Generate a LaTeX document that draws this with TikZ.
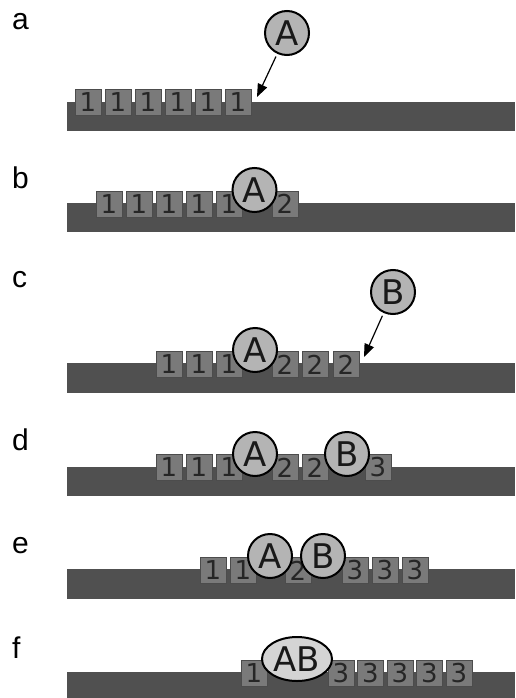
\documentclass[tikz,border=0pt]{standalone}
\usepackage{fontspec}
\setmainfont{Liberation Sans}
\newfontfamily\dejavu{DejaVu Sans}
\usetikzlibrary{arrows.meta,shapes.geometric}
\definecolor{track}{HTML}{505050}
\definecolor{sitegray}{HTML}{7A7A7A}
\definecolor{motorgray}{HTML}{B4B4B4}
\definecolor{pairgray}{HTML}{D4D4D4}

\begin{document}
\begin{tikzpicture}
[x=1pt, y=-1pt,
 rowlabel/.style={font=\fontsize{30}{30}\selectfont, anchor=base west, inner sep=0},
 site/.style={draw=black!70, fill=sitegray, line width=0.8pt, minimum size=26pt, inner sep=0,
   text=black!85, font=\dejavu\fontsize{26}{26}\selectfont},
 motor/.style={circle, draw=black, fill=motorgray, line width=2pt, minimum size=44pt, inner sep=0,
   text=black!90, font=\dejavu\fontsize{34}{34}\selectfont},
 >={Triangle[length=13pt,width=10pt]}]
\useasboundingbox (0,0) rectangle (515,698);

% tracks
\fill [track] (67,102) rectangle (515,131);
\fill [track] (67,203) rectangle (515,232);
\fill [track] (67,363) rectangle (515,393);
\fill [track] (67,467) rectangle (515,496);
\fill [track] (67,569) rectangle (515,599);
\fill [track] (67,672) rectangle (515,698);

% row labels
\node [rowlabel] (la) at (12,30) {a};
\node [rowlabel] (lb) at (12,188) {b};
\node [rowlabel] (lc) at (12,287) {c};
\node [rowlabel] (ld) at (12,450) {d};
\node [rowlabel] (le) at (12,553) {e};
\node [rowlabel] (lf) at (12,658) {f};

% a
\foreach \i in {0,...,5}
  \node [site] (a1\i) at (88+30*\i,102) {1};
\node [motor] (Aa) at (287,33) {A};
\coordinate (ta) at (257,97);
\draw [->, line width=1.2pt, shorten <=3pt] (Aa) -- (ta);

% b
\foreach \i in {0,...,4}
  \node [site] (b1\i) at (109+30*\i,204) {1};
\node [site] (b20) at (285,204) {2};
\node [motor] (Ab) at (254.5,190) {A};

% c
\foreach \i in {0,1,2}
  \node [site] (c1\i) at (169+30*\i,364.5) {1};
\foreach \x [count=\i] in {285,315,346}
  \node [site] (c2\i) at (\x,364.5) {2};
\node [motor] (Ac) at (255,350) {A};
\node [motor] (Bc) at (393,292) {B};
\coordinate (tc) at (364,357);
\draw [->, line width=1.2pt, shorten <=3pt] (Bc) -- (tc);

% d
\foreach \i in {0,1,2}
  \node [site] (d1\i) at (169+30*\i,467.5) {1};
\node [site] (d20) at (285,467.5) {2};
\node [site] (d21) at (315,467.5) {2};
\node [site] (d30) at (378,467.5) {3};
\node [motor] (Ad) at (255,454) {A};
\node [motor] (Bd) at (347,454) {B};

% e
\node [site] (e10) at (213,570.5) {1};
\node [site] (e11) at (243,570.5) {1};
\node [site] (e20) at (298,570.5) {2};
\foreach \i in {0,1,2}
  \node [site] (e3\i) at (355+30*\i,570.5) {3};
\node [motor] (Ae) at (270,556) {A};
\node [motor] (Be) at (323,556) {B};

% f
\node [site] (f10) at (254,673) {1};
\foreach \i in {0,...,4}
  \node [site] (f3\i) at (341+29.5*\i,673) {3};
\node [motor, ellipse, fill=pairgray, minimum width=70pt, minimum height=44pt] (ABf) at (297,659) {AB};
\end{tikzpicture}
\end{document}
